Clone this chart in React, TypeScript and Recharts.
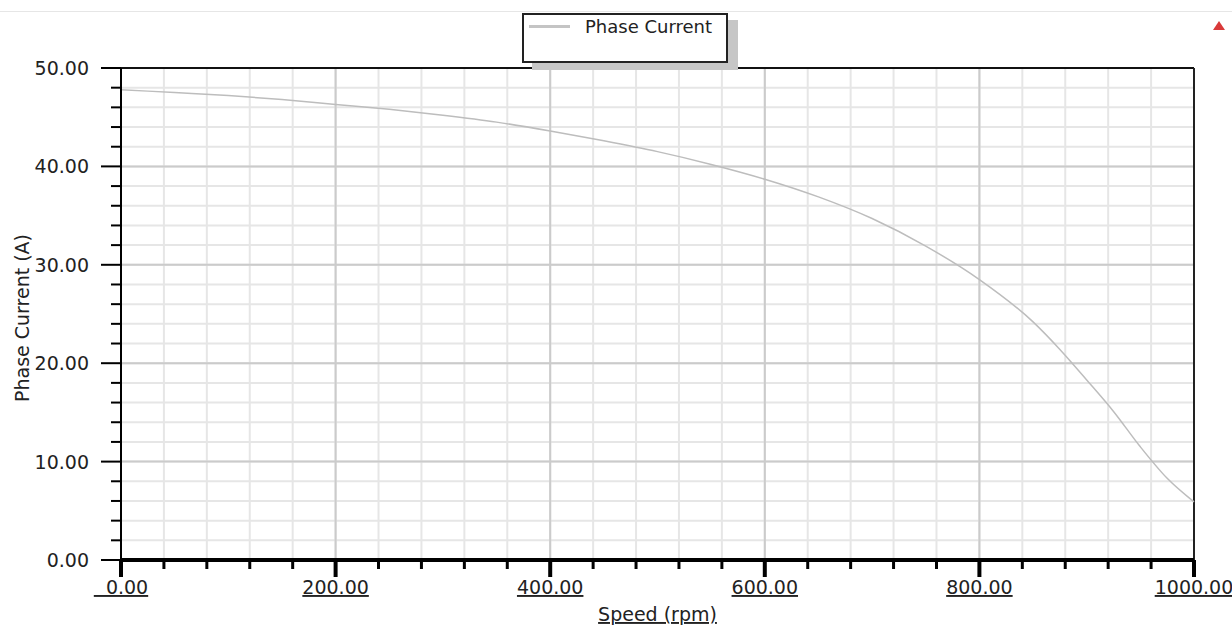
import React from 'react'
import { LineChart, Line, XAxis, YAxis, CartesianGrid, ReferenceLine, Legend } from 'recharts'

// speed (rpm) and phase current (A)
const speeds = [0, 50, 100, 150, 200, 250, 300, 350, 400, 450, 500, 550, 600, 650, 700, 750, 800, 850, 875, 900, 925, 950, 975, 1000]
const phaseCurrent = [47.8, 47.5, 47.2, 46.8, 46.3, 45.8, 45.2, 44.5, 43.6, 42.6, 41.5, 40.2, 38.7, 36.9, 34.7, 31.9, 28.5, 24.2, 21.4, 18.3, 15.1, 11.5, 8.3, 5.9]

const xTicks = [0, 40, 80, 120, 160, 200, 240, 280, 320, 360, 400, 440, 480, 520, 560, 600, 640, 680, 720, 760, 800, 840, 880, 920, 960, 1000]
const xMajor = [0, 200, 400, 600, 800, 1000]
const yTicks = [0, 2, 4, 6, 8, 10, 12, 14, 16, 18, 20, 22, 24, 26, 28, 30, 32, 34, 36, 38, 40, 42, 44, 46, 48, 50]
const yMajor = [0, 10, 20, 30, 40, 50]

const data = speeds.map((s, i) => ({ speed: s, current: phaseCurrent[i] }))

const FONT = '"DejaVu Sans", Verdana, sans-serif'
const MINOR = '#e6e6e6'
const MAJOR = '#cbcbcb'
const INK = '#222'

const XTick = (props: any) => {
  const { x, y, payload } = props
  const major = xMajor.includes(payload.value)
  const label = payload.value === 0 ? '  0.00' : payload.value.toFixed(2)
  return (
    <g>
      <line x1={x} y1={y} x2={x} y2={y + (major ? 17 : 9)} stroke="#000" strokeWidth={major ? 4 : 3} />
      {major && (
        <text x={x} y={y + 34} textAnchor="middle" fontSize={19} fontFamily={FONT} fill={INK}
          textDecoration="underline" style={{ whiteSpace: 'pre' }}>
          {label}
        </text>
      )}
    </g>
  )
}

const YTick = (props: any) => {
  const { x, y, payload } = props
  const major = yMajor.includes(payload.value)
  return (
    <g>
      <line x1={x - (major ? 20 : 10)} y1={y} x2={x} y2={y} stroke="#000" strokeWidth={2} />
      {major && (
        <text x={x - 32} y={y + 7} textAnchor="end" fontSize={19} fontFamily={FONT} fill={INK}>
          {payload.value.toFixed(2)}
        </text>
      )}
    </g>
  )
}

const XLabel = (props: any) => {
  const { x, y, width, height } = props.viewBox
  return (
    <text x={x + width / 2} y={y + height - 6} textAnchor="middle" fontSize={19} fontFamily={FONT}
      fill={INK} textDecoration="underline">
      Speed (rpm)
    </text>
  )
}

const YLabel = (props: any) => {
  const { y, height } = props.viewBox
  const cx = 29
  const cy = y + height / 2 + 4
  return (
    <text x={cx} y={cy} textAnchor="middle" fontSize={19} fontFamily={FONT} fill={INK}
      transform={`rotate(-90 ${cx} ${cy})`}>
      Phase Current (A)
    </text>
  )
}

const LegendBox = () => (
  <div style={{
    width: 202, height: 46, border: '2px solid #222', background: '#fff',
    boxShadow: '10px 7px 0 #c6c6c6', position: 'relative', fontFamily: FONT,
  }}>
    <div style={{ position: 'absolute', left: 5, top: 10, width: 41, height: 3, background: '#c4c4c4' }} />
    <div style={{ position: 'absolute', left: 61, top: 1, fontSize: 18, color: INK }}>Phase Current</div>
  </div>
)

export default function App() {
  return (
    <div style={{ position: 'relative', width: 1232, height: 627, background: '#fff' }}>
      <style>{'body{margin:0}'}</style>
      <div style={{ position: 'absolute', left: 0, top: 11, width: 1232, height: 1, background: '#e6e6e6' }} />
      <div style={{
        position: 'absolute', left: 1213, top: 21, width: 0, height: 0,
        borderLeft: '6px solid transparent', borderRight: '6px solid transparent',
        borderBottom: '9px solid #d93a3a',
      }} />
      <LineChart width={1232} height={627} data={data}
        margin={{ top: 68, right: 38, bottom: 0, left: 0 }}>
        <CartesianGrid stroke={MINOR} strokeWidth={2} />
        {xMajor.slice(1, -1).map(v => (
          <ReferenceLine key={'x' + v} x={v} stroke={MAJOR} strokeWidth={2} />
        ))}
        {yMajor.slice(1, -1).map(v => (
          <ReferenceLine key={'y' + v} y={v} stroke={MAJOR} strokeWidth={2} />
        ))}
        <ReferenceLine y={50} stroke="#111" strokeWidth={2} />
        <ReferenceLine x={1000} stroke="#222" strokeWidth={2} />
        <XAxis dataKey="speed" type="number" domain={[0, 1000]} ticks={xTicks} interval={0}
          height={67} tickSize={0} tickMargin={0} tick={<XTick />}
          axisLine={{ stroke: '#000', strokeWidth: 4 }} label={<XLabel />} />
        <YAxis type="number" domain={[0, 50]} ticks={yTicks} interval={0}
          width={121} tickSize={0} tickMargin={0} tick={<YTick />}
          axisLine={{ stroke: '#000', strokeWidth: 2 }} label={<YLabel />} />
        <Legend layout="horizontal" verticalAlign="middle" align="center" content={<LegendBox />}
          wrapperStyle={{ left: 522, top: 13, width: 206, height: 50 }} />
        <Line dataKey="current" name="Phase Current" type="monotone" stroke="#bdbdbd"
          strokeWidth={1.5} dot={false} isAnimationActive={false} />
      </LineChart>
    </div>
  )
}
